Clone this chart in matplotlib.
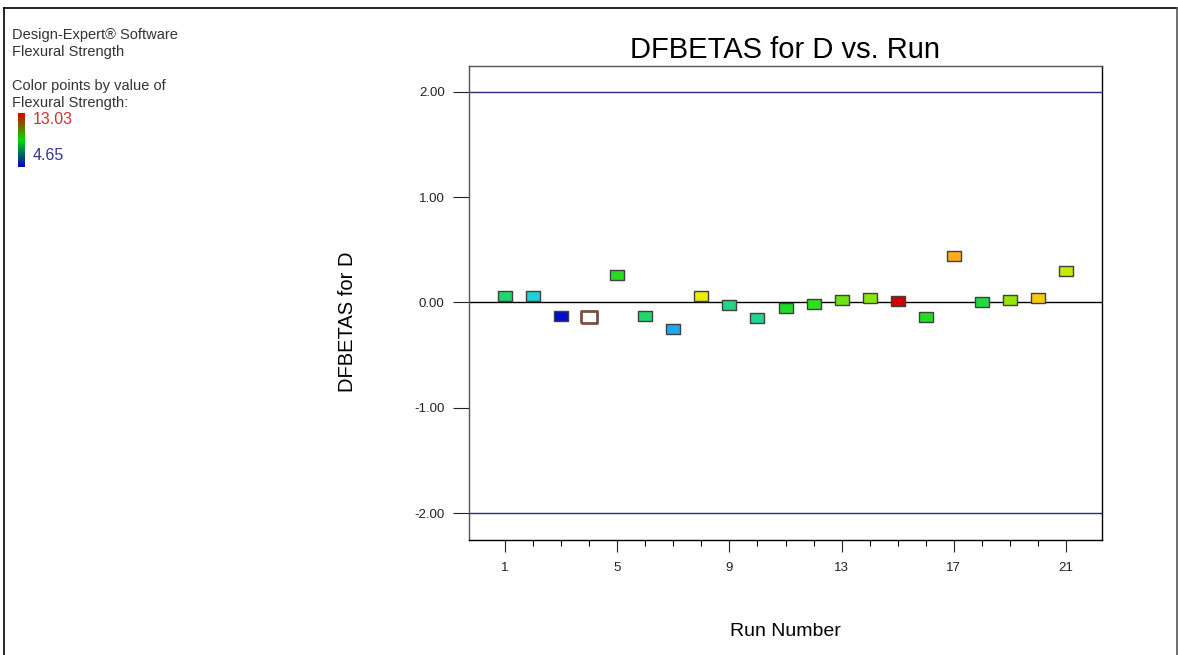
import matplotlib
matplotlib.use('Agg')
import matplotlib.pyplot as plt
from matplotlib.colors import LinearSegmentedColormap
from matplotlib.lines import Line2D
import numpy as np

# Data
runs = list(range(1, 22))
dfbetas = [0.06, 0.06, -0.13, -0.14, 0.26, -0.13, -0.25, 0.06, -0.02, -0.15,
           -0.05, -0.01, 0.02, 0.04, 0.01, -0.14, 0.44, 0.00, 0.02, 0.04, 0.30]
# Flexural strength, estimated from the point colours
strength = [8.1, 7.0, 4.8, 8.8, 8.9, 8.1, 6.4, 10.9, 7.8, 7.7,
            8.8, 9.0, 9.6, 9.9, 13.03, 8.9, 12.0, 8.6, 10.0, 11.5, 10.5]
selected_run = 4
fs_min, fs_max = 4.65, 13.03
limit_lines = [2.0, -2.0]
y_ticks = [-2.0, -1.0, 0.0, 1.0, 2.0]
x_major = [1, 5, 9, 13, 17, 21]

cmap = LinearSegmentedColormap.from_list(
    'de', [(0.0, '#0000cc'), (0.25, '#22ccee'), (0.5, '#22dd22'),
           (0.75, '#eeee00'), (0.88, '#ffaa22'), (1.0, '#cc0000')])
bar_cmap = LinearSegmentedColormap.from_list('bar', ['#0000bb', '#00dd00', '#dd0000'])

plt.rcParams['font.family'] = ['Liberation Sans', 'DejaVu Sans']

fig = plt.figure(figsize=(11.78, 6.55), dpi=100)
ax = fig.add_axes([469 / 1178, 1 - 540 / 655, (1102 - 469) / 1178, (540 - 66) / 655])

# reference lines
for yv in limit_lines:
    ax.axhline(yv, color='#2a2a80', lw=1.0, zorder=1)
ax.axhline(0, color='black', lw=1.0, zorder=1)

# rectangular marker (wider than tall)
rect = [(-1, -0.72), (1, -0.72), (1, 0.72), (-1, 0.72), (-1, -0.72)]
norm = plt.Normalize(fs_min, fs_max)
for r, d, s in zip(runs, dfbetas, strength):
    if r == selected_run:
        ax.plot(r, d, marker=rect, ms=11.5, mfc='white', mec='#7a5040', mew=2.0,
                ls='none', zorder=3)
    else:
        ax.plot(r, d, marker=rect, ms=9.5, mfc=cmap(norm(s)), mec='#404040', mew=1.0,
                ls='none', zorder=3)

ax.set_xlim(-0.29, 22.29)
ax.set_ylim(-2.255, 2.245)
ax.set_yticks(y_ticks)
ax.set_yticklabels(['%.2f' % v for v in y_ticks])
ax.set_xticks(x_major)
ax.set_xticks(runs, minor=True)
ax.tick_params(axis='y', direction='out', length=11.5, width=0.8, labelsize=9.5, pad=6,
               colors='#222222')
ax.tick_params(axis='x', which='major', direction='out', length=8.6, width=0.8,
               labelsize=9.5, pad=7, colors='#222222')
ax.tick_params(axis='x', which='minor', direction='out', length=4.3, width=0.8)
for sp in ['left', 'top']:
    ax.spines[sp].set_color('#555555')
for sp in ax.spines.values():
    sp.set_linewidth(1.0)

ax.set_title('DFBETAS for D vs. Run', fontsize=21, pad=6)
ax.set_ylabel('DFBETAS for D', fontsize=14.5)
ax.yaxis.set_label_coords(-0.177, 0.46)
ax.set_xlabel('Run Number', fontsize=14)
ax.xaxis.set_label_coords(0.5, -0.175)

# left-hand legend text
legend_lines = [('Design-Expert\u00ae Software', 35), ('Flexural Strength', 52),
                ('Color points by value of', 86), ('Flexural Strength:', 103)]
for txt, ypx in legend_lines:
    fig.text(12 / 1178, 1 - ypx / 655, txt, fontsize=10.5, va='center', color='#333333')

cax = fig.add_axes([18 / 1178, 1 - 167 / 655, 7 / 1178, 54 / 655])
cax.imshow(np.linspace(1, 0, 100).reshape(-1, 1), cmap=bar_cmap, aspect='auto')
cax.set_axis_off()
fig.text(33 / 1178, 1 - 120 / 655, '%.2f' % fs_max, fontsize=11.5, color='#cc3333', va='center')
fig.text(33 / 1178, 1 - 155 / 655, '%.2f' % fs_min, fontsize=11.5, color='#333399', va='center')

# outer frame
fig.add_artist(Line2D([4 / 1178, 4 / 1178], [0, 1 - 8 / 655], color='black', lw=1.2))
fig.add_artist(Line2D([4 / 1178, 1176.5 / 1178], [1 - 8 / 655, 1 - 8 / 655], color='black', lw=1.2))
fig.add_artist(Line2D([1176.5 / 1178, 1176.5 / 1178], [0, 1 - 8 / 655], color='#555555', lw=1.2))

fig.savefig('out.png', dpi=100)
